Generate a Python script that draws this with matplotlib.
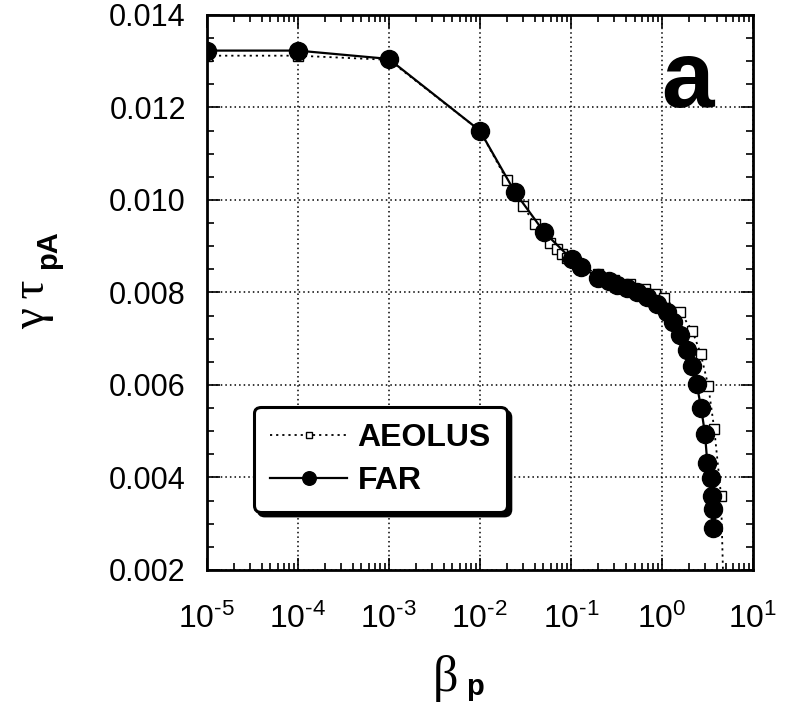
import matplotlib
matplotlib.use("Agg")
import matplotlib.pyplot as plt
from matplotlib.ticker import FixedLocator, FixedFormatter, LogLocator, MultipleLocator, FormatStrFormatter, NullFormatter

plt.rcParams['font.family'] = ['Liberation Sans', 'DejaVu Sans']
plt.rcParams['mathtext.fontset'] = 'custom'
plt.rcParams['mathtext.rm'] = 'Liberation Sans'
plt.rcParams['mathtext.bf'] = 'Liberation Sans:bold'
plt.rcParams['mathtext.it'] = 'Liberation Sans:italic'

# FAR results
far_beta = [1e-5, 1e-4, 1e-3, 1e-2, 0.0243, 0.0511, 0.102, 0.129, 0.200, 0.264,
            0.318, 0.410, 0.528, 0.680, 0.875, 1.13, 1.33, 1.58, 1.87, 2.12,
            2.41, 2.69, 2.97, 3.15, 3.43, 3.57, 3.61, 3.61]
far_gt = [0.01323, 0.01323, 0.01305, 0.0115, 0.01017, 0.0093, 0.00872, 0.00856, 0.00832, 0.00825,
          0.00817, 0.00809, 0.00801, 0.00791, 0.00776, 0.00758, 0.00736, 0.00709, 0.00676, 0.00642,
          0.00602, 0.00551, 0.00495, 0.00432, 0.00399, 0.00359, 0.00332, 0.00291]

# AEOLUS results
aeo_beta = [1e-5, 1e-4, 1e-3, 1e-2, 0.0197, 0.0300, 0.0403, 0.0589, 0.0698, 0.0792,
            0.0899, 0.12, 0.2, 0.3, 0.45, 0.65, 0.85, 1.06, 1.58, 2.16,
            2.67, 3.23, 3.76, 4.46, 4.75]
aeo_gt = [0.01312, 0.01312, 0.01303, 0.0115, 0.01044, 0.00986, 0.00948, 0.00907, 0.00893, 0.00883,
          0.00875, 0.0086, 0.0084, 0.00828, 0.00818, 0.00808, 0.00796, 0.00787, 0.00758, 0.00717,
          0.00667, 0.00598, 0.00504, 0.00361, 0.0015]

x_ticks = [1e-5, 1e-4, 1e-3, 1e-2, 1e-1, 1e0, 1e1]
x_ticklabels = [r'$10^{\text{-}5}$', r'$10^{\text{-}4}$', r'$10^{\text{-}3}$', r'$10^{\text{-}2}$',
                r'$10^{\text{-}1}$', r'$10^{0}$', r'$10^{1}$']

fig = plt.figure(figsize=(7.85, 7.1), dpi=100)
ax = fig.add_axes([0.2633, 0.1972, 0.6959, 0.7817])

ax.plot(aeo_beta, aeo_gt, color='black', linestyle=(0, (1.2, 2.2)), linewidth=1.3,
        marker='s', markersize=6.5, markerfacecolor='white', markeredgecolor='black',
        markeredgewidth=1.0, label='AEOLUS', zorder=3)
ax.plot(far_beta, far_gt, color='black', linestyle='-', linewidth=1.6,
        marker='o', markersize=13, markerfacecolor='black', markeredgecolor='black',
        label='FAR', zorder=4)

ax.set_xscale('log')
ax.set_xlim(1e-5, 1e1)
ax.set_ylim(0.002, 0.014)

ax.xaxis.set_major_locator(FixedLocator(x_ticks))
ax.xaxis.set_major_formatter(FixedFormatter(x_ticklabels))
ax.xaxis.set_minor_locator(LogLocator(base=10, subs=range(2, 10), numticks=20))
ax.xaxis.set_minor_formatter(NullFormatter())
ax.yaxis.set_major_locator(MultipleLocator(0.002))
ax.yaxis.set_minor_locator(MultipleLocator(0.0005))
ax.yaxis.set_major_formatter(FormatStrFormatter('%.3f'))

ax.tick_params(which='both', direction='in', top=True, right=True, width=1.2)
ax.tick_params(which='major', length=9)
ax.tick_params(which='minor', length=5)
ax.tick_params(axis='y', pad=15, labelsize=22)
ax.tick_params(axis='x', pad=24, labelsize=23)

ax.grid(True, which='major', color='black', linestyle=(0, (1, 2)), linewidth=1.1)
for sp in ax.spines.values():
    sp.set_linewidth(2)

leg = ax.legend(loc='lower left', bbox_to_anchor=(0.087, 0.105), borderaxespad=0,
                prop={'weight': 'bold', 'size': 23}, handlelength=2.4, handletextpad=0.33,
                markerscale=0.75, fancybox=True, framealpha=1, edgecolor='black',
                borderpad=0.5, labelspacing=0.4,
                shadow={'ox': 3, 'oy': -3, 'facecolor': 'black', 'edgecolor': 'black', 'alpha': 1})
leg.get_frame().set_linewidth(2.2)
leg.set_zorder(10)

ax.text(0.833, 0.834, 'a', transform=ax.transAxes, fontsize=68, fontweight='bold',
        ha='left', va='baseline', zorder=6)

# axis titles: symbol glyphs in serif, subscripts in bold sans
fig.text(33 / 785, 1 - 304 / 710, '\u03b3\u2009\u03c4', family=['Liberation Serif', 'DejaVu Serif'],
         fontsize=34, rotation=90, ha='center', va='center')
fig.text(48 / 785, 1 - 250 / 710, 'pA', fontsize=21, fontweight='bold',
         rotation=90, ha='center', va='center')
fig.text(446 / 785, 1 - 691 / 710, '\u03b2', family=['Liberation Serif', 'DejaVu Serif'],
         fontsize=36, ha='center', va='baseline')
fig.text(475 / 785, 1 - 695 / 710, 'p', fontsize=21, fontweight='bold',
         ha='center', va='baseline')

fig.savefig('out.png', dpi=100)
